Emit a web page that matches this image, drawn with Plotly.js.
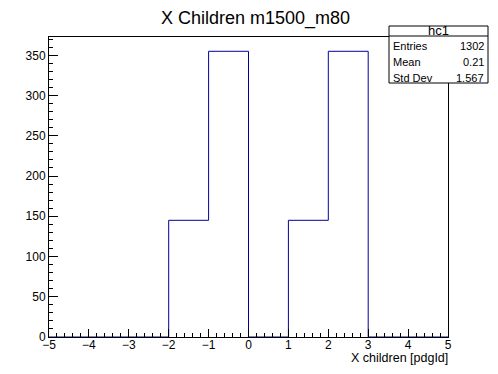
<!DOCTYPE html>
<html>
<head>
<meta charset="utf-8">
<script src="https://cdn.plot.ly/plotly-3.0.1.min.js"></script>
<style>html,body{margin:0;padding:0;background:#fff;}#chart{width:498px;height:374px;}</style>
</head>
<body>
<div id="chart"></div>
<script>
// Histogram data (bins of width 1 from -5 to 5)
const binEdges = [-5, -4, -3, -2, -1, 0, 1, 2, 3, 4, 5];
const binCounts = [0, 0, 0, 145, 355, 0, 145, 355, 0, 0];
const statsLabels = ["Entries", "Mean", "Std Dev"];
const statsValues = ["1302", "0.21", "1.567"];
const histName = "hc1";
const titleText = "X Children m1500_m80";
const xTitle = "X children [pdgId]";

const stepX = binEdges.slice();
const stepY = binCounts.concat([binCounts[binCounts.length - 1]]);

const L = 49, R = 448, T = 37, B = 337, W = 498, H = 374;
const px = v => (v - L) / (R - L);
const py = v => (B - v) / (B - T);

const font = "Liberation Sans, Arial, Helvetica, sans-serif";
const ymax = Math.max(...binCounts) * 1.05;

const trace = {
  x: stepX, y: stepY, type: 'scatter', mode: 'lines',
  line: {shape: 'hv', color: '#000099', width: 1},
  hoverinfo: 'skip', showlegend: false
};

const annotations = [
  {text: titleText, xref: 'paper', yref: 'paper', x: px(255), y: py(18), xanchor: 'center', yanchor: 'middle', showarrow: false, borderpad: 0, font: {family: font, size: 18, color: '#000'}},
  {text: xTitle, xref: 'paper', yref: 'paper', x: px(449), y: py(358), xanchor: 'right', yanchor: 'middle', showarrow: false, borderpad: 0, font: {family: font, size: 12.5, color: '#000'}},
  {text: histName, xref: 'paper', yref: 'paper', x: px(438.5), y: py(31), xanchor: 'center', yanchor: 'middle', showarrow: false, borderpad: 0, font: {family: font, size: 13, color: '#000'}}
];
const rowY = [46, 62, 78];
statsLabels.forEach((lab, i) => {
  annotations.push({text: lab, xref: 'paper', yref: 'paper', x: px(392), y: py(rowY[i]), xanchor: 'left', yanchor: 'middle', showarrow: false, borderpad: 0, font: {family: font, size: 11, color: '#000'}});
  annotations.push({text: statsValues[i], xref: 'paper', yref: 'paper', x: px(485), y: py(rowY[i]), xanchor: 'right', yanchor: 'middle', showarrow: false, borderpad: 0, font: {family: font, size: 11, color: '#000'}});
});

const shapes = [
  {type: 'rect', xref: 'paper', yref: 'paper', x0: px(389), x1: px(488), y0: py(83), y1: py(26), fillcolor: '#fff', line: {color: '#000', width: 1}, layer: 'above'},
  {type: 'line', xref: 'paper', yref: 'paper', x0: px(389), x1: px(488), y0: py(36), y1: py(36), line: {color: '#000', width: 1}, layer: 'above'}
];

const layout = {
  width: W, height: H,
  margin: {l: L, r: W - R, t: T, b: H - B, pad: 0},
  paper_bgcolor: '#fff', plot_bgcolor: '#fff',
  showlegend: false,
  font: {family: font, size: 12, color: '#000'},
  xaxis: {
    range: [-5, 5], tickmode: 'linear', tick0: -5, dtick: 1,
    ticks: 'inside', ticklen: 8, tickwidth: 1, tickcolor: '#000',
    ticklabelstandoff: -3,
    minor: {ticks: 'inside', dtick: 0.2, tick0: -5, ticklen: 4, tickcolor: '#000', showgrid: false},
    showline: true, linecolor: '#000', linewidth: 1, mirror: true,
    showgrid: false, zeroline: false,
    tickfont: {family: font, size: 12, color: '#000'}
  },
  yaxis: {
    range: [0, ymax], tickmode: 'linear', tick0: 0, dtick: 50,
    ticks: 'inside', ticklen: 9, tickwidth: 1, tickcolor: '#000',
    minor: {ticks: 'inside', dtick: 10, tick0: 0, ticklen: 4, tickcolor: '#000', showgrid: false},
    showline: true, linecolor: '#000', linewidth: 1, mirror: true,
    showgrid: false, zeroline: false,
    tickfont: {family: font, size: 12, color: '#000'}
  },
  annotations: annotations,
  shapes: shapes
};

Plotly.newPlot('chart', [trace], layout, {staticPlot: true, displayModeBar: false});
</script>
</body>
</html>
